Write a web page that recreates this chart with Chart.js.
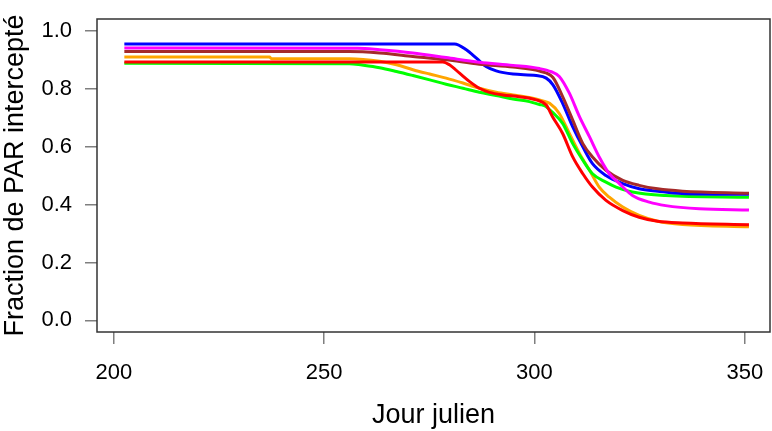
<!DOCTYPE html>
<html>
<head>
<meta charset="utf-8">
<script src="https://cdn.jsdelivr.net/npm/chart.js@4/dist/chart.umd.min.js"></script>
<style>
html,body{margin:0;padding:0;background:#fff;}
canvas{display:block;}
</style>
</head>
<body>
<canvas id="c" width="772" height="431"></canvas>
<script>
// ---- data (Jour julien, fraction intercepted) ----
const xTicks = [200, 250, 300, 350];
const yTicks = [0.0, 0.2, 0.4, 0.6, 0.8, 1.0];
const xTitle = "Jour julien";
const yTitle = "Fraction de PAR intercepté";

const blueDays = [202.5, 281, 283.8, 286.2, 288.5, 290.9, 294.9, 300.4, 302.8, 304.4, 306.7, 309.1, 311.5, 313.8, 317, 321, 324.9, 329.3, 335, 351];
const blueVals = [0.954, 0.954, 0.934, 0.905, 0.876, 0.861, 0.850, 0.845, 0.836, 0.813, 0.749, 0.668, 0.599, 0.541, 0.500, 0.472, 0.454, 0.446, 0.438, 0.435];

const magentaDays = [202.5, 258, 263.2, 271.1, 279, 286.9, 294.9, 301.2, 304, 305.9, 308.3, 310.7, 313.1, 315.4, 317.8, 320.2, 323.3, 327.3, 331.2, 339.2, 351];
const magentaVals = [0.940, 0.939, 0.934, 0.923, 0.907, 0.891, 0.880, 0.869, 0.858, 0.842, 0.784, 0.703, 0.633, 0.564, 0.506, 0.472, 0.431, 0.408, 0.396, 0.385, 0.381];

const brownDays = [202.5, 256, 263.2, 271.1, 279, 286.9, 294.9, 301.2, 304.4, 306.7, 309.1, 311.5, 313.8, 317, 321, 324.9, 329.3, 335.2, 351];
const brownVals = [0.928, 0.928, 0.923, 0.911, 0.899, 0.884, 0.874, 0.860, 0.838, 0.772, 0.691, 0.610, 0.564, 0.518, 0.483, 0.466, 0.454, 0.446, 0.439];

const orangeDays = [202.5, 237, 237.5, 256, 263.2, 267.2, 271.1, 275.1, 279, 283, 286.9, 290.9, 294.9, 298.8, 302, 303.6, 305.9, 308.3, 310.7, 313.1, 315.4, 317.8, 321, 324.9, 329.3, 335.2, 351];
const orangeVals = [0.909, 0.909, 0.903, 0.903, 0.894, 0.882, 0.865, 0.850, 0.836, 0.819, 0.801, 0.787, 0.778, 0.769, 0.757, 0.749, 0.714, 0.645, 0.576, 0.518, 0.460, 0.425, 0.391, 0.362, 0.342, 0.331, 0.323];

const redDays = [202.5, 278.2, 279.8, 282.2, 284.6, 286.9, 289.3, 292.5, 296.4, 300.4, 302.8, 304.3, 306.7, 309.1, 311.5, 313.8, 317, 321, 324.9, 329.3, 335.2, 351];
const redVals = [0.892, 0.892, 0.882, 0.853, 0.824, 0.801, 0.787, 0.778, 0.772, 0.761, 0.743, 0.703, 0.645, 0.564, 0.506, 0.460, 0.414, 0.379, 0.356, 0.342, 0.336, 0.330];

const greenDays = [202.5, 256, 259, 263.2, 267.2, 271.1, 275.1, 279, 283, 286.9, 290.9, 294.9, 298.8, 301.2, 302.5, 304.3, 306.7, 309.1, 311.5, 313.8, 317, 319.4, 323.3, 331.2, 351];
const greenVals = [0.887, 0.886, 0.881, 0.872, 0.859, 0.845, 0.830, 0.815, 0.801, 0.787, 0.776, 0.764, 0.755, 0.745, 0.740, 0.718, 0.680, 0.610, 0.553, 0.506, 0.477, 0.460, 0.443, 0.431, 0.425];

function pts(days, vals){ return days.map((d,i)=>({x:d, y:vals[i]})); }
function ds(days, vals, color){
  return {data: pts(days, vals), borderColor: color, borderWidth: 3, pointRadius: 0,
          fill: false, cubicInterpolationMode: 'monotone', borderJoinStyle: 'round', borderCapStyle: 'butt'};
}

const FONT = "'Liberation Sans', Arial, sans-serif";

const boxPlugin = {
  id: 'box',
  afterDraw(chart){
    const {ctx, chartArea:a} = chart;
    ctx.save();
    ctx.strokeStyle = '#333';
    ctx.lineWidth = 1.5;
    ctx.strokeRect(a.left, a.top, a.right - a.left, a.bottom - a.top);
    ctx.restore();
  }
};

new Chart(document.getElementById('c'), {
  type: 'line',
  data: {
    datasets: [
      ds(redDays, redVals, '#FF0000'),
      ds(magentaDays, magentaVals, '#FF00FF'),
      ds(brownDays, brownVals, '#A52A2A'),
      ds(blueDays, blueVals, '#0000FF'),
      ds(greenDays, greenVals, '#00FF00'),
      ds(orangeDays, orangeVals, '#FFA500')
    ]
  },
  options: {
    responsive: false,
    animation: false,
    events: [],
    layout: {padding: {top: 19, right: 2, left: 0, bottom: 0}},
    plugins: {legend: {display: false}, tooltip: {enabled: false}},
    scales: {
      x: {
        type: 'linear', min: 196, max: 356,
        afterFit(s){ s.height = 99; s.paddingLeft = 0; s.paddingRight = 0; s.paddingTop = 0; s.paddingBottom = 0; },
        afterBuildTicks(s){ s.ticks = xTicks.map(v => ({value: v})); },
        grid: {drawOnChartArea: false, drawTicks: true, tickLength: 12, color: '#7f7f7f', lineWidth: 1.5},
        border: {display: false},
        ticks: {color: '#000', font: {family: FONT, size: 22}, padding: 16, maxRotation: 0, autoSkip: false,
                callback: v => String(v)},
        title: {display: true, text: xTitle, color: '#000', font: {family: FONT, size: 27, lineHeight: 1.15}, padding: {top: 0, bottom: 0}}
      },
      y: {
        type: 'linear', min: -0.04, max: 1.04,
        afterFit(s){ s.width = 97; s.paddingLeft = 0; s.paddingRight = 0; s.paddingTop = 0; s.paddingBottom = 0; },
        afterBuildTicks(s){ s.ticks = yTicks.map(v => ({value: v})); },
        grid: {drawOnChartArea: false, drawTicks: true, tickLength: 12, color: '#7f7f7f', lineWidth: 1.5},
        border: {display: false},
        ticks: {color: '#000', font: {family: FONT, size: 22}, padding: 13, autoSkip: false,
                callback: v => Number(v).toFixed(1)},
        title: {display: true, text: yTitle, color: '#000', font: {family: FONT, size: 27, lineHeight: 1.15}, padding: {top: 0, bottom: 0}}
      }
    }
  },
  plugins: [boxPlugin]
});
</script>
</body>
</html>
